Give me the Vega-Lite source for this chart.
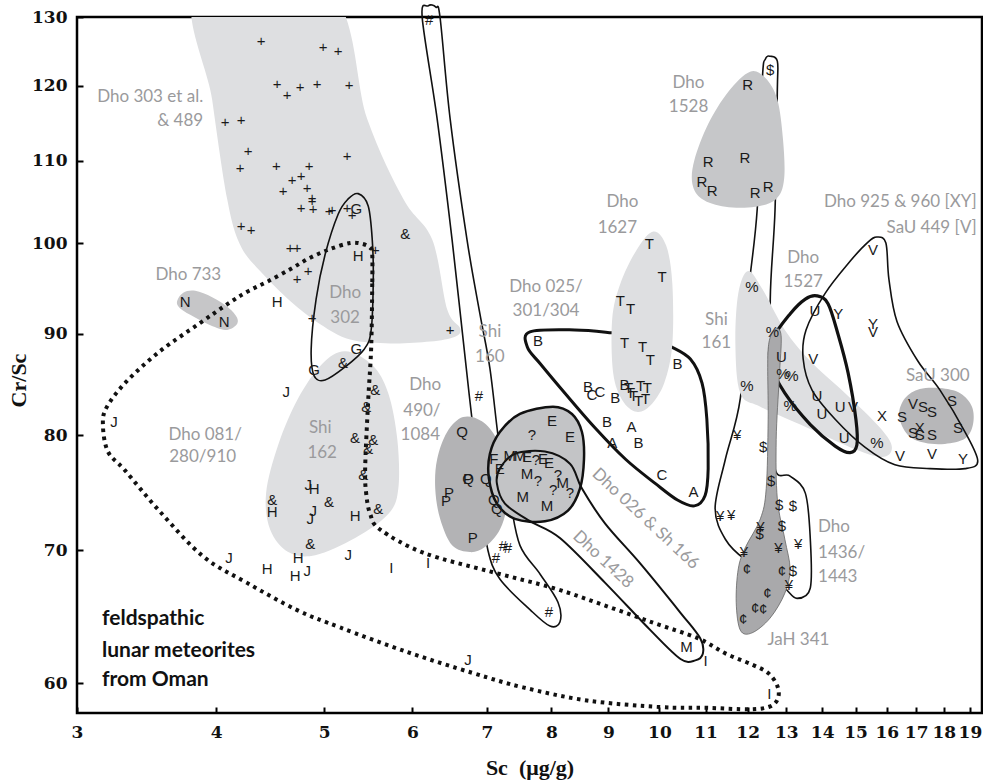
{
  "$schema": "https://vega.github.io/schema/vega-lite/v6.json",
  "autosize": "none",
  "width": 905,
  "height": 696,
  "padding": {"left": 77, "top": 17, "right": 1, "bottom": 69},
  "background": "white",
  "config": {"view": {"stroke": "black", "strokeWidth": 2.5}},
  "datasets": {
    "regions": [
      {"r":"dho303","k":1,"x":3.85,"y":134},{"r":"dho303","k":2,"x":3.967,"y":118.1},{"r":"dho303","k":3,"x":4.092,"y":105.25},{"r":"dho303","k":4,"x":4.203,"y":99.8},{"r":"dho303","k":5,"x":4.38,"y":96.8},{"r":"dho303","k":6,"x":4.661,"y":93.5},{"r":"dho303","k":7,"x":4.96,"y":91.0},{"r":"dho303","k":8,"x":5.276,"y":89.4},{"r":"dho303","k":9,"x":5.733,"y":89.0},{"r":"dho303","k":10,"x":6.226,"y":89.2},{"r":"dho303","k":11,"x":6.554,"y":89.7},{"r":"dho303","k":12,"x":6.622,"y":90.6},{"r":"dho303","k":13,"x":6.448,"y":92.6},{"r":"dho303","k":14,"x":6.252,"y":100.4},{"r":"dho303","k":15,"x":5.89,"y":105.25},{"r":"dho303","k":16,"x":5.466,"y":115.5},{"r":"dho303","k":17,"x":5.05,"y":134},
      {"r":"shi162","k":1,"x":5.222,"y":88.2},{"r":"shi162","k":2,"x":5.523,"y":86.8},{"r":"shi162","k":3,"x":5.709,"y":84.0},{"r":"shi162","k":4,"x":5.817,"y":79.6},{"r":"shi162","k":5,"x":5.829,"y":75.2},{"r":"shi162","k":6,"x":5.709,"y":73.0},{"r":"shi162","k":7,"x":5.331,"y":71.0},{"r":"shi162","k":8,"x":4.909,"y":69.6},{"r":"shi162","k":9,"x":4.642,"y":69.85},{"r":"shi162","k":10,"x":4.472,"y":71.7},{"r":"shi162","k":11,"x":4.435,"y":74.8},{"r":"shi162","k":12,"x":4.547,"y":79.1},{"r":"shi162","k":13,"x":4.739,"y":83.5},{"r":"shi162","k":14,"x":4.979,"y":86.9},
      {"r":"dho1627","k":1,"x":9.873,"y":101.35},{"r":"dho1627","k":2,"x":10.14,"y":99.7},{"r":"dho1627","k":3,"x":10.27,"y":95.4},{"r":"dho1627","k":4,"x":10.27,"y":88.9},{"r":"dho1627","k":5,"x":10.1,"y":85.0},{"r":"dho1627","k":6,"x":9.814,"y":82.8},{"r":"dho1627","k":7,"x":9.539,"y":82.2},{"r":"dho1627","k":8,"x":9.265,"y":83.3},{"r":"dho1627","k":9,"x":9.088,"y":86.0},{"r":"dho1627","k":10,"x":9.069,"y":91.5},{"r":"dho1627","k":11,"x":9.225,"y":95.4},{"r":"dho1627","k":12,"x":9.539,"y":99.2},
      {"r":"shi161","k":1,"x":12.01,"y":96.8},{"r":"shi161","k":2,"x":12.37,"y":94.8},{"r":"shi161","k":3,"x":12.96,"y":90.4},{"r":"shi161","k":4,"x":13.66,"y":87.2},{"r":"shi161","k":5,"x":14.68,"y":84.0},{"r":"shi161","k":6,"x":15.78,"y":80.7},{"r":"shi161","k":7,"x":16.17,"y":78.9},{"r":"shi161","k":8,"x":15.84,"y":78.0},{"r":"shi161","k":9,"x":14.83,"y":78.9},{"r":"shi161","k":10,"x":13.38,"y":81.0},{"r":"shi161","k":11,"x":12.32,"y":82.7},{"r":"shi161","k":12,"x":11.82,"y":84.0},{"r":"shi161","k":13,"x":11.70,"y":88.9},{"r":"shi161","k":14,"x":11.77,"y":94.3},
      {"r":"dho733","k":1,"x":3.69,"y":93.5},{"r":"dho733","k":2,"x":3.737,"y":94.4},{"r":"dho733","k":3,"x":3.831,"y":94.6},{"r":"dho733","k":4,"x":3.967,"y":93.9},{"r":"dho733","k":5,"x":4.1,"y":92.8},{"r":"dho733","k":6,"x":4.177,"y":91.7},{"r":"dho733","k":7,"x":4.168,"y":90.9},{"r":"dho733","k":8,"x":4.075,"y":90.4},{"r":"dho733","k":9,"x":3.934,"y":91.0},{"r":"dho733","k":10,"x":3.791,"y":92.0},{"r":"dho733","k":11,"x":3.706,"y":92.8},
      {"r":"dho490","k":1,"x":6.663,"y":81.7},{"r":"dho490","k":2,"x":6.928,"y":81.3},{"r":"dho490","k":3,"x":7.146,"y":79.6},{"r":"dho490","k":4,"x":7.266,"y":76.96},{"r":"dho490","k":5,"x":7.296,"y":73.9},{"r":"dho490","k":6,"x":7.191,"y":71.7},{"r":"dho490","k":7,"x":6.971,"y":70.26},{"r":"dho490","k":8,"x":6.76,"y":69.85},{"r":"dho490","k":9,"x":6.514,"y":70.4},{"r":"dho490","k":10,"x":6.355,"y":72.6},{"r":"dho490","k":11,"x":6.291,"y":75.2},{"r":"dho490","k":12,"x":6.316,"y":77.8},{"r":"dho490","k":13,"x":6.448,"y":80.3},
      {"r":"dho026","k":1,"x":8.025,"y":82.7},{"r":"dho026","k":2,"x":8.346,"y":82.0},{"r":"dho026","k":3,"x":8.52,"y":80.3},{"r":"dho026","k":4,"x":8.556,"y":77.8},{"r":"dho026","k":5,"x":8.485,"y":75.2},{"r":"dho026","k":6,"x":8.277,"y":73.3},{"r":"dho026","k":7,"x":7.893,"y":72.4},{"r":"dho026","k":8,"x":7.418,"y":72.6},{"r":"dho026","k":9,"x":7.146,"y":73.9},{"r":"dho026","k":10,"x":7.029,"y":76.1},{"r":"dho026","k":11,"x":7.044,"y":78.3},{"r":"dho026","k":12,"x":7.19,"y":80.3},{"r":"dho026","k":13,"x":7.495,"y":82.0},
      {"r":"dho1528","k":1,"x":12.06,"y":122.0},{"r":"dho1528","k":2,"x":12.45,"y":121.1},{"r":"dho1528","k":3,"x":12.76,"y":118.1},{"r":"dho1528","k":4,"x":12.91,"y":112.8},{"r":"dho1528","k":5,"x":12.94,"y":107.7},{"r":"dho1528","k":6,"x":12.73,"y":105.25},{"r":"dho1528","k":7,"x":12.19,"y":104.3},{"r":"dho1528","k":8,"x":11.46,"y":104.3},{"r":"dho1528","k":9,"x":10.92,"y":105.25},{"r":"dho1528","k":10,"x":10.705,"y":107.1},{"r":"dho1528","k":11,"x":10.75,"y":110.1},{"r":"dho1528","k":12,"x":11.06,"y":114.8},{"r":"dho1528","k":13,"x":11.53,"y":119.2},
      {"r":"sau300","k":1,"x":16.41,"y":81.8},{"r":"sau300","k":2,"x":16.61,"y":83.5},{"r":"sau300","k":3,"x":17.13,"y":84.4},{"r":"sau300","k":4,"x":17.86,"y":84.5},{"r":"sau300","k":5,"x":18.62,"y":84.0},{"r":"sau300","k":6,"x":19.08,"y":82.7},{"r":"sau300","k":7,"x":19.12,"y":81.0},{"r":"sau300","k":8,"x":18.81,"y":79.7},{"r":"sau300","k":9,"x":18.04,"y":79.2},{"r":"sau300","k":10,"x":17.31,"y":79.3},{"r":"sau300","k":11,"x":16.72,"y":80.0},
      {"r":"jah341","k":1,"x":12.70,"y":90.4},{"r":"jah341","k":2,"x":12.86,"y":89.8},{"r":"jah341","k":3,"x":12.81,"y":85.5},{"r":"jah341","k":4,"x":12.73,"y":79.6},{"r":"jah341","k":5,"x":12.76,"y":74.3},{"r":"jah341","k":6,"x":12.96,"y":70.9},{"r":"jah341","k":7,"x":13.1,"y":68.5},{"r":"jah341","k":8,"x":12.96,"y":66.6},{"r":"jah341","k":9,"x":12.57,"y":64.7},{"r":"jah341","k":10,"x":12.11,"y":63.6},{"r":"jah341","k":11,"x":11.82,"y":63.8},{"r":"jah341","k":12,"x":11.72,"y":65.9},{"r":"jah341","k":13,"x":11.77,"y":68.5},{"r":"jah341","k":14,"x":11.94,"y":70.2},{"r":"jah341","k":15,"x":12.32,"y":72.6},{"r":"jah341","k":16,"x":12.47,"y":75.2},{"r":"jah341","k":17,"x":12.52,"y":81.5},{"r":"jah341","k":18,"x":12.52,"y":88.4}
    ],
    "loops": [
      {"r":"dho1436","k":1,"x":12.575,"y":124.2},{"r":"dho1436","k":2,"x":12.76,"y":123.5},{"r":"dho1436","k":3,"x":12.76,"y":119.5},{"r":"dho1436","k":4,"x":12.70,"y":104.0},{"r":"dho1436","k":5,"x":12.575,"y":93.7},{"r":"dho1436","k":6,"x":12.63,"y":83.5},{"r":"dho1436","k":7,"x":12.70,"y":76.96},{"r":"dho1436","k":8,"x":13.1,"y":76.3},{"r":"dho1436","k":9,"x":13.52,"y":74.8},{"r":"dho1436","k":10,"x":13.66,"y":70.9},{"r":"dho1436","k":11,"x":13.66,"y":67.0},{"r":"dho1436","k":12,"x":13.29,"y":66.2},{"r":"dho1436","k":13,"x":12.96,"y":67.0},{"r":"dho1436","k":14,"x":12.45,"y":68.5},{"r":"dho1436","k":15,"x":11.94,"y":69.25},{"r":"dho1436","k":16,"x":11.46,"y":70.9},{"r":"dho1436","k":17,"x":11.22,"y":73.5},{"r":"dho1436","k":18,"x":11.46,"y":77.8},{"r":"dho1436","k":19,"x":11.82,"y":83.5},{"r":"dho1436","k":20,"x":12.0,"y":93.7},{"r":"dho1436","k":21,"x":12.24,"y":104.0},{"r":"dho1436","k":22,"x":12.37,"y":120.9},{"r":"dho1436","k":23,"x":12.45,"y":123.8},
      {"r":"shi160","k":1,"x":6.2,"y":131.7},{"r":"shi160","k":2,"x":6.124,"y":129.9},{"r":"shi160","k":3,"x":6.316,"y":115.5},{"r":"shi160","k":4,"x":6.514,"y":100.4},{"r":"shi160","k":5,"x":6.65,"y":90.4},{"r":"shi160","k":6,"x":6.788,"y":81.5},{"r":"shi160","k":7,"x":6.943,"y":73.5},{"r":"shi160","k":8,"x":7.015,"y":70.0},{"r":"shi160","k":9,"x":7.19,"y":67.7},{"r":"shi160","k":10,"x":7.66,"y":65.3},{"r":"shi160","k":11,"x":7.975,"y":64.1},{"r":"shi160","k":12,"x":8.141,"y":64.4},{"r":"shi160","k":13,"x":8.108,"y":65.9},{"r":"shi160","k":14,"x":7.812,"y":68.1},{"r":"shi160","k":15,"x":7.495,"y":70.4},{"r":"shi160","k":16,"x":7.34,"y":74.3},{"r":"shi160","k":17,"x":7.19,"y":78.7},{"r":"shi160","k":18,"x":7.044,"y":86.45},{"r":"shi160","k":19,"x":6.9,"y":92.1},{"r":"shi160","k":20,"x":6.718,"y":100.4},{"r":"shi160","k":21,"x":6.488,"y":115.5},{"r":"shi160","k":22,"x":6.355,"y":129.85},{"r":"shi160","k":23,"x":6.3,"y":131.5},
      {"r":"dho025","k":1,"x":7.652,"y":90.2},{"r":"dho025","k":2,"x":8.398,"y":90.4},{"r":"dho025","k":3,"x":9.069,"y":90.1},{"r":"dho025","k":4,"x":9.814,"y":89.6},{"r":"dho025","k":5,"x":10.23,"y":88.7},{"r":"dho025","k":6,"x":10.66,"y":87.4},{"r":"dho025","k":7,"x":10.92,"y":85.0},{"r":"dho025","k":8,"x":11.03,"y":81.5},{"r":"dho025","k":9,"x":11.06,"y":76.96},{"r":"dho025","k":10,"x":10.99,"y":74.6},{"r":"dho025","k":11,"x":10.75,"y":73.7},{"r":"dho025","k":12,"x":10.38,"y":74.2},{"r":"dho025","k":13,"x":9.912,"y":75.65},{"r":"dho025","k":14,"x":9.324,"y":77.8},{"r":"dho025","k":15,"x":8.752,"y":80.7},{"r":"dho025","k":16,"x":8.226,"y":84.0},{"r":"dho025","k":17,"x":7.82,"y":86.9},{"r":"dho025","k":18,"x":7.612,"y":88.6},
      {"r":"dho302","k":1,"x":5.365,"y":105.9},{"r":"dho302","k":2,"x":5.477,"y":104.4},{"r":"dho302","k":3,"x":5.523,"y":100.4},{"r":"dho302","k":4,"x":5.535,"y":95.9},{"r":"dho302","k":5,"x":5.511,"y":90.4},{"r":"dho302","k":6,"x":5.432,"y":88.4},{"r":"dho302","k":7,"x":5.222,"y":86.6},{"r":"dho302","k":8,"x":5.01,"y":85.3},{"r":"dho302","k":9,"x":4.898,"y":85.7},{"r":"dho302","k":10,"x":4.868,"y":88.4},{"r":"dho302","k":11,"x":4.918,"y":93.7},{"r":"dho302","k":12,"x":5.011,"y":98.7},{"r":"dho302","k":13,"x":5.147,"y":103.4},{"r":"dho302","k":14,"x":5.255,"y":105.25},
      {"r":"dho1428","k":1,"x":7.19,"y":76.96},{"r":"dho1428","k":2,"x":7.418,"y":78.3},{"r":"dho1428","k":3,"x":7.893,"y":78.5},{"r":"dho1428","k":4,"x":8.312,"y":77.4},{"r":"dho1428","k":5,"x":8.52,"y":75.2},{"r":"dho1428","k":6,"x":8.939,"y":72.2},{"r":"dho1428","k":7,"x":9.618,"y":68.9},{"r":"dho1428","k":8,"x":10.445,"y":65.1},{"r":"dho1428","k":9,"x":10.88,"y":63.2},{"r":"dho1428","k":10,"x":10.94,"y":62.1},{"r":"dho1428","k":11,"x":10.77,"y":61.6},{"r":"dho1428","k":12,"x":10.445,"y":61.7},{"r":"dho1428","k":13,"x":9.814,"y":63.8},{"r":"dho1428","k":14,"x":8.939,"y":67.4},{"r":"dho1428","k":15,"x":8.141,"y":71.0},{"r":"dho1428","k":16,"x":7.652,"y":72.4},{"r":"dho1428","k":17,"x":7.266,"y":73.9},{"r":"dho1428","k":18,"x":7.146,"y":75.65},
      {"r":"dho1527","k":1,"x":13.85,"y":94.05},{"r":"dho1527","k":2,"x":14.17,"y":93.2},{"r":"dho1527","k":3,"x":14.47,"y":89.9},{"r":"dho1527","k":4,"x":14.77,"y":86.0},{"r":"dho1527","k":5,"x":15.01,"y":81.5},{"r":"dho1527","k":6,"x":15.04,"y":79.1},{"r":"dho1527","k":7,"x":14.83,"y":78.4},{"r":"dho1527","k":8,"x":14.38,"y":79.0},{"r":"dho1527","k":9,"x":13.66,"y":81.0},{"r":"dho1527","k":10,"x":12.96,"y":84.0},{"r":"dho1527","k":11,"x":12.58,"y":86.9},{"r":"dho1527","k":12,"x":12.63,"y":89.4},{"r":"dho1527","k":13,"x":13.1,"y":92.1},{"r":"dho1527","k":14,"x":13.52,"y":93.7},
      {"r":"dho925","k":1,"x":15.68,"y":100.7},{"r":"dho925","k":2,"x":15.97,"y":100.0},{"r":"dho925","k":3,"x":16.07,"y":95.9},{"r":"dho925","k":4,"x":16.34,"y":91.3},{"r":"dho925","k":5,"x":17.06,"y":87.2},{"r":"dho925","k":6,"x":17.86,"y":84.3},{"r":"dho925","k":7,"x":18.81,"y":80.3},{"r":"dho925","k":8,"x":19.31,"y":77.65},{"r":"dho925","k":9,"x":18.81,"y":76.96},{"r":"dho925","k":10,"x":17.49,"y":76.96},{"r":"dho925","k":11,"x":16.27,"y":77.3},{"r":"dho925","k":12,"x":15.29,"y":78.9},{"r":"dho925","k":13,"x":14.38,"y":81.5},{"r":"dho925","k":14,"x":13.71,"y":84.3},{"r":"dho925","k":15,"x":13.46,"y":87.4},{"r":"dho925","k":16,"x":13.54,"y":90.4},{"r":"dho925","k":17,"x":14.08,"y":94.3},{"r":"dho925","k":18,"x":14.83,"y":97.9},{"r":"dho925","k":19,"x":15.39,"y":100.1}
    ],
    "oman": [
      {"k":1,"x":5.523,"y":98.7},{"k":2,"x":5.523,"y":95.4},{"k":3,"x":5.511,"y":88.6},{"k":4,"x":5.477,"y":83.3},{"k":5,"x":5.443,"y":77.1},{"k":6,"x":5.454,"y":74.8},{"k":7,"x":5.50,"y":73.0},{"k":8,"x":5.615,"y":71.7},{"k":9,"x":6.137,"y":69.8},{"k":10,"x":7.044,"y":68.3},{"k":11,"x":8.026,"y":67.0},{"k":12,"x":8.899,"y":65.7},{"k":13,"x":9.873,"y":64.35},{"k":14,"x":10.83,"y":63.2},{"k":15,"x":11.46,"y":62.1},{"k":16,"x":12.11,"y":61.3},{"k":17,"x":12.52,"y":60.7},{"k":18,"x":12.76,"y":59.8},{"k":19,"x":12.78,"y":58.97},{"k":20,"x":12.575,"y":58.4},{"k":21,"x":12.06,"y":58.2},{"k":22,"x":11.03,"y":58.3},{"k":23,"x":10.01,"y":58.35},{"k":24,"x":8.609,"y":58.8},{"k":25,"x":7.542,"y":59.7},{"k":26,"x":6.80,"y":60.7},{"k":27,"x":5.938,"y":62.2},{"k":28,"x":5.168,"y":64.0},{"k":29,"x":4.729,"y":65.3},{"k":30,"x":4.264,"y":67.4},{"k":31,"x":3.894,"y":69.5},{"k":32,"x":3.562,"y":73.2},{"k":33,"x":3.313,"y":76.8},{"k":34,"x":3.198,"y":78.5},{"k":35,"x":3.165,"y":81.0},{"k":36,"x":3.192,"y":82.7},{"k":37,"x":3.327,"y":85.2},{"k":38,"x":3.562,"y":88.2},{"k":39,"x":3.855,"y":91.0},{"k":40,"x":4.1,"y":93.2},{"k":41,"x":4.264,"y":94.5},{"k":42,"x":4.444,"y":95.6},{"k":43,"x":4.661,"y":97.0},{"k":44,"x":4.858,"y":98.3},{"k":45,"x":5.062,"y":99.3},{"k":46,"x":5.276,"y":100.0},{"k":47,"x":5.41,"y":99.9},{"k":48,"x":5.50,"y":99.45}
    ],
    "pts": [
      {"s":"+","x":4.39,"y":126.4},{"s":"+","x":4.538,"y":120.3},{"s":"+","x":4.632,"y":118.8},{"s":"+","x":4.759,"y":119.9},{"s":"+","x":4.075,"y":115.06},{"s":"+","x":4.211,"y":115.3},{"s":"+","x":4.273,"y":111.3},{"s":"+","x":4.203,"y":109.1},{"s":"+","x":4.529,"y":109.3},{"s":"+","x":4.681,"y":107.6},{"s":"+","x":4.594,"y":106.2},{"s":"+","x":4.768,"y":104.2},{"s":"+","x":4.211,"y":101.96},{"s":"+","x":4.30,"y":101.5},{"s":"+","x":4.99,"y":125.5},{"s":"+","x":5.147,"y":124.9},{"s":"+","x":4.928,"y":120.3},{"s":"+","x":5.266,"y":120.1},{"s":"+","x":5.243,"y":110.65},{"s":"+","x":4.848,"y":109.4},{"s":"+","x":4.768,"y":108.05},{"s":"+","x":4.828,"y":106.6},{"s":"+","x":4.878,"y":105.4},{"s":"+","x":4.878,"y":105.0},{"s":"+","x":4.888,"y":104.0},{"s":"+","x":5.052,"y":103.8},{"s":"+","x":5.083,"y":103.9},{"s":"+","x":5.243,"y":104.2},{"s":"+","x":5.298,"y":103.3},{"s":"+","x":6.488,"y":90.4},{"s":"+","x":4.878,"y":91.7},{"s":"+","x":4.661,"y":99.45},{"s":"+","x":4.729,"y":99.45},{"s":"+","x":4.838,"y":96.8},{"s":"+","x":4.729,"y":95.9},{"s":"+","x":5.558,"y":99.2},
      {"s":"&","x":5.913,"y":101.0},{"s":"&","x":5.20,"y":87.04},{"s":"&","x":5.558,"y":84.28},{"s":"&","x":5.454,"y":82.7},{"s":"&","x":5.331,"y":79.74},{"s":"&","x":5.535,"y":79.57},{"s":"&","x":5.477,"y":78.7},{"s":"&","x":5.421,"y":76.35},{"s":"&","x":5.052,"y":74.0},{"s":"&","x":5.592,"y":73.4},{"s":"&","x":4.858,"y":70.52},{"s":"&","x":4.491,"y":74.17},
      {"s":"H","x":4.538,"y":93.4},{"s":"H","x":5.365,"y":98.46},{"s":"H","x":4.491,"y":73.2},{"s":"H","x":4.444,"y":68.5},{"s":"H","x":4.739,"y":69.4},{"s":"H","x":4.709,"y":67.97},{"s":"H","x":4.898,"y":75.2},{"s":"H","x":5.331,"y":72.8},
      {"s":"J","x":3.238,"y":81.2},{"s":"J","x":4.623,"y":84.1},{"s":"J","x":4.108,"y":69.4},{"s":"J","x":4.838,"y":75.5},{"s":"J","x":4.888,"y":73.3},{"s":"J","x":4.858,"y":72.6},{"s":"J","x":5.255,"y":69.6},{"s":"J","x":4.828,"y":68.3},{"s":"J","x":6.732,"y":61.6},
      {"s":"N","x":3.752,"y":93.4},{"s":"N","x":4.066,"y":91.2},
      {"s":"G","x":5.343,"y":104.0},{"s":"G","x":5.343,"y":88.4},{"s":"G","x":4.898,"y":86.25},
      {"s":"I","x":5.745,"y":68.6},{"s":"I","x":6.20,"y":69.0},{"s":"I","x":11.0,"y":61.57},{"s":"I","x":12.55,"y":59.24},
      {"s":"Q","x":6.65,"y":80.33},{"s":"Q","x":6.732,"y":76.0},{"s":"Q","x":6.986,"y":76.0},{"s":"Q","x":7.102,"y":74.17},{"s":"Q","x":7.146,"y":73.4},
      {"s":"P","x":6.732,"y":76.0},{"s":"P","x":6.474,"y":74.8},{"s":"P","x":6.434,"y":74.1},{"s":"P","x":6.80,"y":71.04},
      {"s":"#","x":6.213,"y":129.56},{"s":"#","x":6.886,"y":83.7},{"s":"#","x":7.236,"y":70.35},{"s":"#","x":7.311,"y":70.17},{"s":"#","x":7.132,"y":69.4},{"s":"#","x":7.959,"y":65.18},
      {"s":"T","x":9.794,"y":99.9},{"s":"T","x":10.054,"y":96.15},{"s":"T","x":9.225,"y":93.5},{"s":"T","x":9.422,"y":92.6},{"s":"T","x":9.304,"y":89.0},{"s":"T","x":9.657,"y":88.6},{"s":"T","x":9.814,"y":87.3},{"s":"T","x":9.38,"y":84.5},{"s":"T","x":9.618,"y":84.7},{"s":"T","x":9.755,"y":84.5},{"s":"T","x":9.422,"y":84.0},{"s":"T","x":9.48,"y":83.7},{"s":"T","x":9.578,"y":83.2},{"s":"T","x":9.716,"y":83.4},
      {"s":"B","x":7.78,"y":89.2},{"s":"B","x":10.38,"y":86.9},{"s":"B","x":9.304,"y":84.8},{"s":"B","x":8.626,"y":84.6},{"s":"B","x":9.127,"y":83.5},{"s":"B","x":8.972,"y":81.2},{"s":"B","x":9.578,"y":79.3},
      {"s":"C","x":8.698,"y":83.8},{"s":"C","x":8.844,"y":84.1},{"s":"C","x":10.054,"y":76.35},
      {"s":"A","x":9.441,"y":80.8},{"s":"A","x":9.069,"y":79.3},{"s":"A","x":10.727,"y":74.9},
      {"s":"F","x":7.10,"y":77.8},
      {"s":"E","x":7.19,"y":76.96},{"s":"E","x":7.604,"y":78.0},{"s":"E","x":7.86,"y":77.8},{"s":"E","x":7.958,"y":77.5},{"s":"E","x":8.01,"y":81.3},{"s":"E","x":8.312,"y":79.8},
      {"s":"M","x":7.34,"y":78.1},{"s":"M","x":7.495,"y":78.1},{"s":"M","x":7.604,"y":76.5},{"s":"M","x":8.19,"y":75.65},{"s":"M","x":7.54,"y":74.5},{"s":"M","x":7.926,"y":73.65},{"s":"M","x":10.575,"y":62.6},
      {"s":"?","x":7.748,"y":77.7},{"s":"?","x":7.78,"y":75.9},{"s":"?","x":8.108,"y":76.35},{"s":"?","x":8.026,"y":75.04},{"s":"?","x":8.312,"y":74.8},{"s":"?","x":7.684,"y":80.0},
      {"s":"R","x":12.0,"y":120.1},{"s":"R","x":11.06,"y":109.9},{"s":"R","x":11.936,"y":110.4},{"s":"R","x":10.92,"y":107.3},{"s":"R","x":11.15,"y":106.2},{"s":"R","x":12.19,"y":106.0},{"s":"R","x":12.52,"y":106.7},
      {"s":"$","x":12.575,"y":122.3},{"s":"$","x":12.6,"y":75.9},{"s":"$","x":12.81,"y":73.8},{"s":"$","x":13.18,"y":73.7},{"s":"$","x":12.88,"y":72.0},{"s":"$","x":13.18,"y":68.3},{"s":"$","x":12.39,"y":78.96},{"s":"$","x":12.3,"y":71.3},
      {"s":"¥","x":11.746,"y":80.0},{"s":"¥","x":11.34,"y":72.8},{"s":"¥","x":11.60,"y":72.9},{"s":"¥","x":11.91,"y":69.85},{"s":"¥","x":12.32,"y":71.9},{"s":"¥","x":12.79,"y":70.17},{"s":"¥","x":13.32,"y":70.5},{"s":"¥","x":13.07,"y":67.2},
      {"s":"¢","x":11.98,"y":68.5},{"s":"¢","x":12.88,"y":68.3},{"s":"¢","x":12.5,"y":66.6},{"s":"¢","x":12.19,"y":65.5},{"s":"¢","x":12.39,"y":65.4},{"s":"¢","x":11.89,"y":64.6},
      {"s":"%","x":12.11,"y":95.0},{"s":"%","x":11.98,"y":84.7},{"s":"%","x":12.63,"y":90.2},{"s":"%","x":12.91,"y":85.9},{"s":"%","x":13.15,"y":85.7},{"s":"%","x":13.1,"y":82.8},{"s":"%","x":15.68,"y":79.3},
      {"s":"U","x":13.79,"y":92.4},{"s":"U","x":12.87,"y":87.6},{"s":"U","x":13.85,"y":83.7},{"s":"U","x":13.99,"y":82.0},{"s":"U","x":14.53,"y":82.7},{"s":"U","x":14.65,"y":79.7},
      {"s":"V","x":15.55,"y":99.2},{"s":"V","x":15.55,"y":90.2},{"s":"V","x":13.74,"y":87.4},{"s":"V","x":14.92,"y":82.7},{"s":"V","x":16.44,"y":78.1},{"s":"V","x":17.57,"y":78.3},{"s":"V","x":16.89,"y":83.0},
      {"s":"Y","x":14.47,"y":92.1},{"s":"Y","x":15.55,"y":91.0},{"s":"Y","x":18.73,"y":77.8},
      {"s":"X","x":15.84,"y":81.8},{"s":"X","x":17.13,"y":80.7},
      {"s":"S","x":16.51,"y":81.7},{"s":"S","x":17.24,"y":82.7},{"s":"S","x":17.57,"y":82.2},{"s":"S","x":16.89,"y":80.2},{"s":"S","x":17.13,"y":80.0},{"s":"S","x":17.57,"y":80.0},{"s":"S","x":18.31,"y":83.2},{"s":"S","x":18.54,"y":80.7}
    ],
    "lblCenter": [
      {"t":"Dho 733","x":3.776,"y":96.3},
      {"t":"Dho","x":5.222,"y":94.4},{"t":"302","x":5.222,"y":91.7},
      {"t":"Dho 081/","x":3.91,"y":80.0},{"t":"280/910","x":3.89,"y":78.0},
      {"t":"Shi","x":4.96,"y":80.7},{"t":"162","x":4.98,"y":78.4},
      {"t":"Dho","x":6.162,"y":84.8},{"t":"490/","x":6.12,"y":82.3},{"t":"1084","x":6.10,"y":80.0},
      {"t":"Shi","x":7.044,"y":90.2},{"t":"160","x":7.044,"y":87.6},
      {"t":"Dho 025/","x":7.91,"y":95.0},{"t":"301/304","x":7.91,"y":92.4},
      {"t":"Dho","x":9.265,"y":104.9},{"t":"1627","x":9.167,"y":101.8},
      {"t":"Dho","x":10.62,"y":120.4},{"t":"1528","x":10.62,"y":117.1},
      {"t":"Shi","x":11.25,"y":91.4},{"t":"161","x":11.25,"y":89.0},
      {"t":"Dho","x":13.46,"y":98.3},{"t":"1527","x":13.46,"y":95.6},
      {"t":"SaU 300","x":17.78,"y":85.7}
    ],
    "lblRight": [
      {"t":"Dho 303 et al.","x":3.894,"y":118.5},{"t":"& 489","x":3.894,"y":115.2},
      {"t":"Dho 925 & 960 [XY]","x":19.27,"y":104.9},{"t":"SaU 449 [V]","x":19.27,"y":101.8}
    ],
    "lblLeft": [
      {"t":"Dho","x":13.88,"y":71.9},{"t":"1436/","x":13.88,"y":69.8},{"t":"1443","x":13.88,"y":67.9},
      {"t":"JaH 341","x":12.5,"y":63.1}
    ],
    "lblSlant": [
      {"t":"Dho 026 & Sh 166","x":9.716,"y":72.6},
      {"t":"Dho 1428","x":8.90,"y":69.25}
    ],
    "lblNote": [
      {"t":"feldspathic","x":3.159,"y":64.6},
      {"t":"lunar meteorites","x":3.159,"y":62.3},
      {"t":"from Oman","x":3.159,"y":60.2}
    ]
  },
  "encoding": {
    "x": {
      "field": "x", "type": "quantitative",
      "scale": {"type": "log", "domain": [3, 19.48], "nice": false, "zero": false},
      "axis": {
        "values": [3,4,5,6,7,8,9,10,11,12,13,14,15,16,17,18,19],
        "format": "d", "grid": false, "domain": false,
        "tickSize": -6, "tickWidth": 2, "tickColor": "black",
        "labelPadding": 17, "labelFont": "DejaVu Serif", "labelFontWeight": "bold",
        "labelFontSize": 17, "labelColor": "#111", "labelOverlap": false, "labelFlush": false,
        "title": "Sc\u00a0\u00a0(μg/g)", "titleFont": "Liberation Serif", "titleFontSize": 22,
        "titleFontWeight": "bold", "titleColor": "#111", "titleY": 61, "titleBaseline": "alphabetic"
      }
    },
    "y": {
      "field": "y", "type": "quantitative",
      "scale": {"type": "log", "domain": [57.95, 130], "nice": false, "zero": false},
      "axis": {
        "values": [60,70,80,90,100,110,120,130],
        "format": "d", "grid": false, "domain": false,
        "tickSize": -6, "tickWidth": 2, "tickColor": "black",
        "labelPadding": 16, "labelFont": "DejaVu Serif", "labelFontWeight": "bold",
        "labelFontSize": 17, "labelColor": "#111",
        "title": "Cr/Sc", "titleFont": "Liberation Serif", "titleFontSize": 22,
        "titleFontWeight": "bold", "titleColor": "#111", "titleAngle": -90,
        "titleX": -52, "titleY": 363, "titleAlign": "center", "titleBaseline": "alphabetic"
      }
    }
  },
  "layer": [
    {
      "data": {"name": "loops"},
      "transform": [{"filter": "datum.r === 'dho1436' || datum.r === 'shi160'"}],
      "mark": {"type": "line", "interpolate": "cardinal-closed", "stroke": "#111", "strokeWidth": 1.6},
      "encoding": {"detail": {"field": "r"}, "order": {"field": "k"}}
    },
    {
      "data": {"name": "loops"},
      "transform": [{"filter": "datum.r === 'dho025'"}],
      "mark": {"type": "line", "interpolate": "cardinal-closed", "stroke": "#111", "strokeWidth": 3},
      "encoding": {"order": {"field": "k"}}
    },
    {
      "data": {"name": "regions"},
      "transform": [{"filter": "datum.r === 'dho303' || datum.r === 'shi162' || datum.r === 'dho1627' || datum.r === 'shi161'"}],
      "mark": {"type": "line", "interpolate": "cardinal-closed", "fill": "#dedfe1", "strokeWidth": 0, "clip": true},
      "encoding": {"detail": {"field": "r"}, "order": {"field": "k"}}
    },
    {
      "data": {"name": "regions"},
      "transform": [{"filter": "datum.r === 'dho733'"}],
      "mark": {"type": "line", "interpolate": "cardinal-closed", "fill": "#c6c6c8", "strokeWidth": 0},
      "encoding": {"order": {"field": "k"}}
    },
    {
      "data": {"name": "regions"},
      "transform": [{"filter": "datum.r === 'dho490'"}],
      "mark": {"type": "line", "interpolate": "cardinal-closed", "fill": "#b3b3b5", "strokeWidth": 0},
      "encoding": {"order": {"field": "k"}}
    },
    {
      "data": {"name": "regions"},
      "transform": [{"filter": "datum.r === 'dho1528'"}],
      "mark": {"type": "line", "interpolate": "cardinal-closed", "fill": "#c6c7c9", "strokeWidth": 0},
      "encoding": {"order": {"field": "k"}}
    },
    {
      "data": {"name": "regions"},
      "transform": [{"filter": "datum.r === 'sau300'"}],
      "mark": {"type": "line", "interpolate": "cardinal-closed", "fill": "#b7b7b9", "strokeWidth": 0},
      "encoding": {"order": {"field": "k"}}
    },
    {
      "data": {"name": "regions"},
      "transform": [{"filter": "datum.r === 'dho026'"}],
      "mark": {"type": "line", "interpolate": "cardinal-closed", "fill": "#c3c4c6", "stroke": "#111", "strokeWidth": 2.5},
      "encoding": {"order": {"field": "k"}}
    },
    {
      "data": {"name": "loops"},
      "transform": [{"filter": "datum.r === 'dho302' || datum.r === 'dho925'"}],
      "mark": {"type": "line", "interpolate": "cardinal-closed", "stroke": "#111", "strokeWidth": 1.6},
      "encoding": {"detail": {"field": "r"}, "order": {"field": "k"}}
    },
    {
      "data": {"name": "loops"},
      "transform": [{"filter": "datum.r === 'dho1428'"}],
      "mark": {"type": "line", "interpolate": "cardinal-closed", "stroke": "#111", "strokeWidth": 2},
      "encoding": {"order": {"field": "k"}}
    },
    {
      "data": {"name": "loops"},
      "transform": [{"filter": "datum.r === 'dho1527'"}],
      "mark": {"type": "line", "interpolate": "cardinal-closed", "stroke": "#111", "strokeWidth": 3.2},
      "encoding": {"order": {"field": "k"}}
    },
    {
      "data": {"name": "regions"},
      "transform": [{"filter": "datum.r === 'jah341'"}],
      "mark": {"type": "line", "interpolate": "cardinal-closed", "fill": "#a9a9ab", "stroke": "#666", "strokeWidth": 0.8},
      "encoding": {"order": {"field": "k"}}
    },
    {
      "data": {"name": "oman"},
      "mark": {"type": "line", "interpolate": "cardinal-closed", "stroke": "#111", "strokeWidth": 4, "strokeDash": [3.5, 4.5], "strokeCap": "butt"},
      "encoding": {"order": {"field": "k"}}
    },
    {
      "data": {"name": "pts"},
      "mark": {"type": "text", "font": "Liberation Sans", "fontSize": 15, "fill": "#1a1a1a", "align": "center", "baseline": "middle"},
      "encoding": {"text": {"field": "s"}}
    },
    {
      "data": {"name": "lblCenter"},
      "mark": {"type": "text", "font": "Lato", "fontSize": 17, "fill": "#9a9a9c", "align": "center", "baseline": "middle"},
      "encoding": {"text": {"field": "t"}}
    },
    {
      "data": {"name": "lblRight"},
      "mark": {"type": "text", "font": "Lato", "fontSize": 17, "fill": "#9a9a9c", "align": "right", "baseline": "middle"},
      "encoding": {"text": {"field": "t"}}
    },
    {
      "data": {"name": "lblLeft"},
      "mark": {"type": "text", "font": "Lato", "fontSize": 17, "fill": "#9a9a9c", "align": "left", "baseline": "middle"},
      "encoding": {"text": {"field": "t"}}
    },
    {
      "data": {"name": "lblSlant"},
      "mark": {"type": "text", "font": "Lato", "fontSize": 17, "fill": "#9a9a9c", "align": "center", "baseline": "middle", "angle": 43},
      "encoding": {"text": {"field": "t"}}
    },
    {
      "data": {"name": "lblNote"},
      "mark": {"type": "text", "font": "Lato", "fontWeight": "bold", "fontSize": 21, "fill": "#111", "align": "left", "baseline": "middle"},
      "encoding": {"text": {"field": "t"}}
    }
  ]
}
